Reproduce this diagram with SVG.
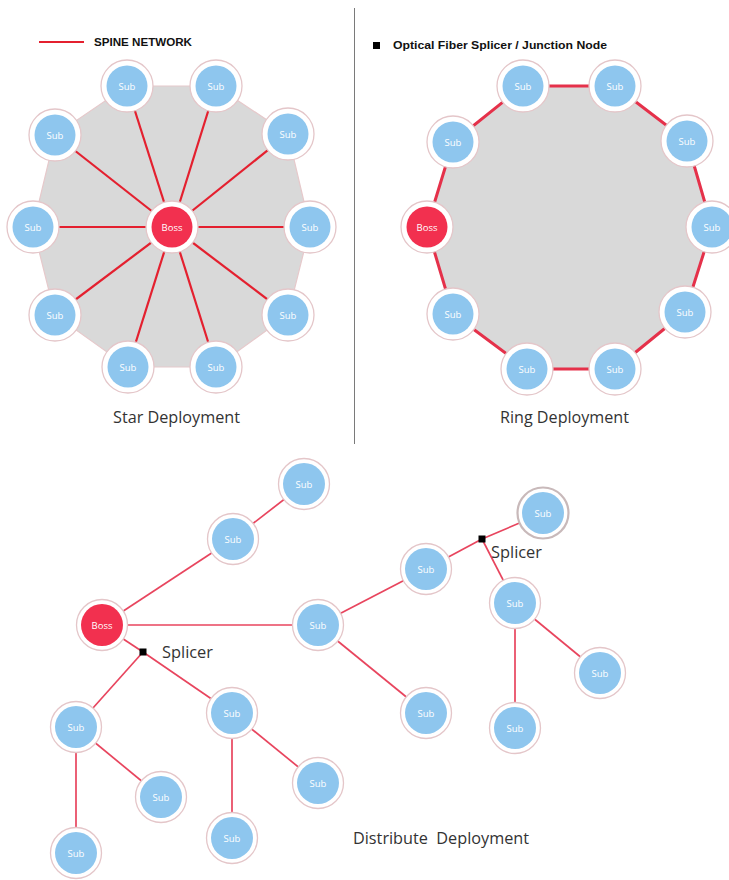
<svg xmlns="http://www.w3.org/2000/svg" width="729" height="880" viewBox="0 0 729 880">
<style>
.bg{fill:#ffffff}
.halo{fill:#ffffff;stroke:#e4c6c9;stroke-width:1.3}
.halo2{fill:#ffffff;stroke:#c8b9ba;stroke-width:2.2}
.sub{fill:#8ec6ee}
.boss{fill:#f2304f}
.lbl{font-family:"Open Sans","Liberation Sans",sans-serif;font-size:9.5px;fill:#ffffff;text-anchor:middle;dominant-baseline:central}
.title{font-family:"Open Sans","Liberation Sans",sans-serif;font-size:16px;fill:#333333}
.legend{font-family:"Liberation Sans",Arial,sans-serif;font-size:11px;font-weight:bold;fill:#111111}
.spoke{stroke:#e4202f;stroke-width:2.2;fill:none}
.tree{stroke:#e8455e;stroke-width:1.7;fill:none}
.splice{fill:#000000}
</style>
<rect class="bg" x="0" y="0" width="729" height="880"/>

<!-- divider -->
<line x1="354.5" y1="8" x2="354.5" y2="444" stroke="#7a7a7a" stroke-width="1"/>

<!-- legends -->
<g id="legend-spine">
<line x1="39" y1="42" x2="84" y2="42" stroke="#e4202f" stroke-width="2"/>
<text class="legend" x="94" y="46" textLength="98" lengthAdjust="spacingAndGlyphs">SPINE NETWORK</text>
</g>
<g id="legend-splicer">
<rect class="splice" x="373" y="42" width="7" height="7"/>
<text class="legend" x="393" y="49" textLength="214" lengthAdjust="spacingAndGlyphs">Optical Fiber Splicer / Junction Node</text>
</g>

<!-- background polygons -->
<polygon id="star-area" points="127,86 216,86 288,134 310,227 288,315 216,367 128,367 55,315 33,227 55,135" fill="#d9d9d9" stroke="#e6c9cb" stroke-width="1.2"/>
<polygon id="ring-area" points="427,227 453,142 523,86 615,86 687,141 712,227 685,312 615,369 527,369 453,314" fill="#d9d9d9" stroke="#e5314a" stroke-width="3" stroke-linejoin="round"/>

<!-- connectors -->
<g id="connectors">
<g id="star-spokes" class="spoke">
<line x1="172" y1="227" x2="127" y2="86"/>
<line x1="172" y1="227" x2="216" y2="86"/>
<line x1="172" y1="227" x2="288" y2="134"/>
<line x1="172" y1="227" x2="310" y2="227"/>
<line x1="172" y1="227" x2="288" y2="315"/>
<line x1="172" y1="227" x2="216" y2="367"/>
<line x1="172" y1="227" x2="128" y2="367"/>
<line x1="172" y1="227" x2="55" y2="315"/>
<line x1="172" y1="227" x2="33" y2="227"/>
<line x1="172" y1="227" x2="55" y2="135"/>
</g>
<g id="tree-links" class="tree">
<line x1="102" y1="625" x2="233" y2="539"/>
<line x1="233" y1="539" x2="304" y2="484"/>
<line x1="102" y1="625" x2="318" y2="625"/>
<line x1="318" y1="625" x2="426" y2="569"/>
<line x1="426" y1="569" x2="482" y2="539"/>
<line x1="482" y1="539" x2="543" y2="513"/>
<line x1="482" y1="539" x2="515" y2="603"/>
<line x1="515" y1="603" x2="600" y2="673"/>
<line x1="515" y1="603" x2="515" y2="728"/>
<line x1="318" y1="625" x2="426" y2="713"/>
<line x1="102" y1="625" x2="143" y2="652"/>
<line x1="143" y1="652" x2="76" y2="727"/>
<line x1="143" y1="652" x2="232" y2="713"/>
<line x1="76" y1="727" x2="76" y2="853"/>
<line x1="76" y1="727" x2="161" y2="797"/>
<line x1="232" y1="713" x2="232" y2="838"/>
<line x1="232" y1="713" x2="318" y2="783"/>
</g>
</g>

<!-- star nodes -->
<g id="star-boss"><circle class="halo" cx="172" cy="227" r="26"/><circle class="boss" cx="172" cy="227" r="20.5"/><text class="lbl" x="172" y="227">Boss</text></g>
<g id="star-sub-1"><circle class="halo" cx="127" cy="86" r="26"/><circle class="sub" cx="127" cy="86" r="20.5"/><text class="lbl" x="127" y="86">Sub</text></g>
<g id="star-sub-2"><circle class="halo" cx="216" cy="86" r="26"/><circle class="sub" cx="216" cy="86" r="20.5"/><text class="lbl" x="216" y="86">Sub</text></g>
<g id="star-sub-3"><circle class="halo" cx="288" cy="134" r="26"/><circle class="sub" cx="288" cy="134" r="20.5"/><text class="lbl" x="288" y="134">Sub</text></g>
<g id="star-sub-4"><circle class="halo" cx="310" cy="227" r="26"/><circle class="sub" cx="310" cy="227" r="20.5"/><text class="lbl" x="310" y="227">Sub</text></g>
<g id="star-sub-5"><circle class="halo" cx="288" cy="315" r="26"/><circle class="sub" cx="288" cy="315" r="20.5"/><text class="lbl" x="288" y="315">Sub</text></g>
<g id="star-sub-6"><circle class="halo" cx="216" cy="367" r="26"/><circle class="sub" cx="216" cy="367" r="20.5"/><text class="lbl" x="216" y="367">Sub</text></g>
<g id="star-sub-7"><circle class="halo" cx="128" cy="367" r="26"/><circle class="sub" cx="128" cy="367" r="20.5"/><text class="lbl" x="128" y="367">Sub</text></g>
<g id="star-sub-8"><circle class="halo" cx="55" cy="315" r="26"/><circle class="sub" cx="55" cy="315" r="20.5"/><text class="lbl" x="55" y="315">Sub</text></g>
<g id="star-sub-9"><circle class="halo" cx="33" cy="227" r="26"/><circle class="sub" cx="33" cy="227" r="20.5"/><text class="lbl" x="33" y="227">Sub</text></g>
<g id="star-sub-10"><circle class="halo" cx="55" cy="135" r="26"/><circle class="sub" cx="55" cy="135" r="20.5"/><text class="lbl" x="55" y="135">Sub</text></g>

<!-- ring nodes -->
<g id="ring-boss"><circle class="halo" cx="427" cy="227" r="26"/><circle class="boss" cx="427" cy="227" r="20.5"/><text class="lbl" x="427" y="227">Boss</text></g>
<g id="ring-sub-1"><circle class="halo" cx="453" cy="142" r="26"/><circle class="sub" cx="453" cy="142" r="20.5"/><text class="lbl" x="453" y="142">Sub</text></g>
<g id="ring-sub-2"><circle class="halo" cx="523" cy="86" r="26"/><circle class="sub" cx="523" cy="86" r="20.5"/><text class="lbl" x="523" y="86">Sub</text></g>
<g id="ring-sub-3"><circle class="halo" cx="615" cy="86" r="26"/><circle class="sub" cx="615" cy="86" r="20.5"/><text class="lbl" x="615" y="86">Sub</text></g>
<g id="ring-sub-4"><circle class="halo" cx="687" cy="141" r="26"/><circle class="sub" cx="687" cy="141" r="20.5"/><text class="lbl" x="687" y="141">Sub</text></g>
<g id="ring-sub-5"><circle class="halo" cx="712" cy="227" r="26"/><circle class="sub" cx="712" cy="227" r="20.5"/><text class="lbl" x="712" y="227">Sub</text></g>
<g id="ring-sub-6"><circle class="halo" cx="685" cy="312" r="26"/><circle class="sub" cx="685" cy="312" r="20.5"/><text class="lbl" x="685" y="312">Sub</text></g>
<g id="ring-sub-7"><circle class="halo" cx="615" cy="369" r="26"/><circle class="sub" cx="615" cy="369" r="20.5"/><text class="lbl" x="615" y="369">Sub</text></g>
<g id="ring-sub-8"><circle class="halo" cx="527" cy="369" r="26"/><circle class="sub" cx="527" cy="369" r="20.5"/><text class="lbl" x="527" y="369">Sub</text></g>
<g id="ring-sub-9"><circle class="halo" cx="453" cy="314" r="26"/><circle class="sub" cx="453" cy="314" r="20.5"/><text class="lbl" x="453" y="314">Sub</text></g>

<!-- distributed nodes -->
<g id="dist-boss"><circle class="halo" cx="102" cy="625" r="25.5"/><circle class="boss" cx="102" cy="625" r="21"/><text class="lbl" x="102" y="625">Boss</text></g>
<g id="dist-sub-1"><circle class="halo" cx="304" cy="484" r="25.5"/><circle class="sub" cx="304" cy="484" r="21"/><text class="lbl" x="304" y="484">Sub</text></g>
<g id="dist-sub-2"><circle class="halo" cx="233" cy="539" r="25.5"/><circle class="sub" cx="233" cy="539" r="21"/><text class="lbl" x="233" y="539">Sub</text></g>
<g id="dist-sub-3"><circle class="halo" cx="318" cy="625" r="25.5"/><circle class="sub" cx="318" cy="625" r="21"/><text class="lbl" x="318" y="625">Sub</text></g>
<g id="dist-sub-4"><circle class="halo" cx="426" cy="569" r="25.5"/><circle class="sub" cx="426" cy="569" r="21"/><text class="lbl" x="426" y="569">Sub</text></g>
<g id="dist-sub-5"><circle class="halo2" cx="543" cy="513" r="25.5"/><circle class="sub" cx="543" cy="513" r="21"/><text class="lbl" x="543" y="513">Sub</text></g>
<g id="dist-sub-6"><circle class="halo" cx="515" cy="603" r="25.5"/><circle class="sub" cx="515" cy="603" r="21"/><text class="lbl" x="515" y="603">Sub</text></g>
<g id="dist-sub-7"><circle class="halo" cx="600" cy="673" r="25.5"/><circle class="sub" cx="600" cy="673" r="21"/><text class="lbl" x="600" y="673">Sub</text></g>
<g id="dist-sub-8"><circle class="halo" cx="515" cy="728" r="25.5"/><circle class="sub" cx="515" cy="728" r="21"/><text class="lbl" x="515" y="728">Sub</text></g>
<g id="dist-sub-9"><circle class="halo" cx="426" cy="713" r="25.5"/><circle class="sub" cx="426" cy="713" r="21"/><text class="lbl" x="426" y="713">Sub</text></g>
<g id="dist-sub-10"><circle class="halo" cx="76" cy="727" r="25.5"/><circle class="sub" cx="76" cy="727" r="21"/><text class="lbl" x="76" y="727">Sub</text></g>
<g id="dist-sub-11"><circle class="halo" cx="232" cy="713" r="25.5"/><circle class="sub" cx="232" cy="713" r="21"/><text class="lbl" x="232" y="713">Sub</text></g>
<g id="dist-sub-12"><circle class="halo" cx="161" cy="797" r="25.5"/><circle class="sub" cx="161" cy="797" r="21"/><text class="lbl" x="161" y="797">Sub</text></g>
<g id="dist-sub-13"><circle class="halo" cx="318" cy="783" r="25.5"/><circle class="sub" cx="318" cy="783" r="21"/><text class="lbl" x="318" y="783">Sub</text></g>
<g id="dist-sub-14"><circle class="halo" cx="232" cy="838" r="25.5"/><circle class="sub" cx="232" cy="838" r="21"/><text class="lbl" x="232" y="838">Sub</text></g>
<g id="dist-sub-15"><circle class="halo" cx="76" cy="853" r="25.5"/><circle class="sub" cx="76" cy="853" r="21"/><text class="lbl" x="76" y="853">Sub</text></g>

<!-- splicers -->
<g id="splicer-1"><rect class="splice" x="478.5" y="535.5" width="7" height="7"/><text class="title" x="491" y="558" textLength="51" lengthAdjust="spacingAndGlyphs">Splicer</text></g>
<g id="splicer-2"><rect class="splice" x="139.5" y="648.5" width="7" height="7"/><text class="title" x="162" y="658" textLength="51" lengthAdjust="spacingAndGlyphs">Splicer</text></g>

<!-- titles -->
<text class="title" x="113" y="423" textLength="127" lengthAdjust="spacingAndGlyphs">Star Deployment</text>
<text class="title" x="500" y="423" textLength="129" lengthAdjust="spacingAndGlyphs">Ring Deployment</text>
<text class="title" x="353" y="844" textLength="176" lengthAdjust="spacingAndGlyphs" xml:space="preserve">Distribute  Deployment</text>
</svg>
